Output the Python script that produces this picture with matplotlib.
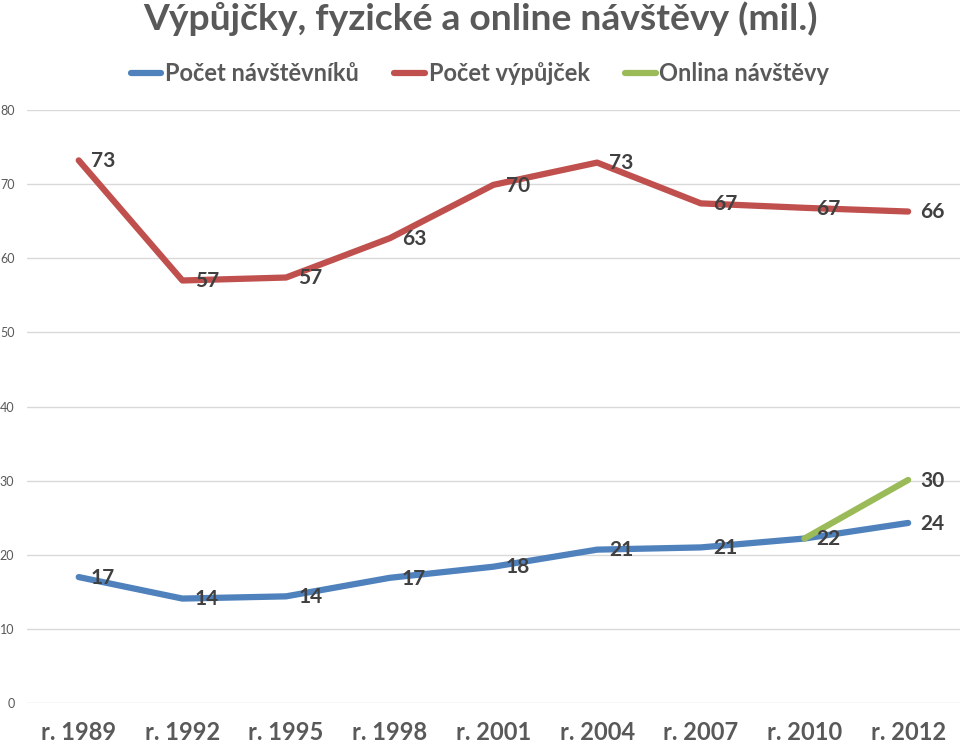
import numpy as np
import matplotlib.pyplot as plt
from matplotlib.lines import Line2D

plt.rcParams['font.family'] = ['Lato', 'DejaVu Sans']

# data (millions)
years = ['r. 1989', 'r. 1992', 'r. 1995', 'r. 1998', 'r. 2001',
         'r. 2004', 'r. 2007', 'r. 2010', 'r. 2012']
visitors = [17.0, 14.1, 14.4, 16.9, 18.4, 20.7, 21.0, 22.2, 24.3]
loans = [73.2, 57.0, 57.4, 62.7, 69.9, 72.9, 67.4, 66.8, 66.3]
online_years = ['r. 2010', 'r. 2012']
online = [22.2, 30.1]

blue = '#4F81BD'
red = '#C0504D'
green = '#9BBB59'
label_col = '#404040'

fig = plt.figure(figsize=(9.6, 7.48), dpi=100)
ax = fig.add_axes([0.028, 0.060, 0.972, 0.793])

x = np.arange(len(years))
x_online = np.array([years.index(y) for y in online_years])

ax.plot(x, visitors, color=blue, lw=4.5, solid_capstyle='round', solid_joinstyle='round', zorder=3)
ax.plot(x, loans, color=red, lw=4.5, solid_capstyle='round', solid_joinstyle='round', zorder=3)
ax.plot(x_online, online, color=green, lw=4.5, solid_capstyle='round', solid_joinstyle='round', zorder=4)

# data labels, to the right of each point
def put_labels(xs, vals, skip_first=False):
    for i, (xi, v) in enumerate(zip(xs, vals)):
        if skip_first and i == 0:
            continue
        ax.annotate(f'{v:.0f}', (xi, v), xytext=(17.5, -0.5), textcoords='offset points',
                    ha='center', va='center', fontsize=15, fontweight='bold',
                    color=label_col, zorder=5)

put_labels(x, visitors)
put_labels(x, loans)
put_labels(x_online, online, skip_first=True)

ax.set_xlim(-0.5, len(years) - 0.5)
ax.set_ylim(0, 80)
ax.set_yticks(np.arange(0, 81, 10))
ax.set_xticks(x)
ax.set_xticklabels(years, fontsize=17, fontweight='bold', color='#595959')
ax.tick_params(axis='y', length=0, pad=9, labelsize=9, labelcolor='#595959')
ax.tick_params(axis='x', length=0, pad=13)
ax.grid(axis='y', color='#D9D9D9', lw=1)
ax.set_axisbelow(True)
for s in ax.spines.values():
    s.set_visible(False)

fig.text(0.5, 0.975, 'Výpůjčky, fyzické a online návštěvy (mil.)', ha='center', va='center',
         fontsize=26.8, fontweight='bold', color='#595959')

handles = [Line2D([], [], color=c, lw=4.5, solid_capstyle='round') for c in (blue, red, green)]
fig.legend(handles, ['Počet návštěvníků', 'Počet výpůjček', 'Onlina návštěvy'],
           loc='center', bbox_to_anchor=(0.5, 0.902), ncol=3, frameon=False,
           prop={'size': 17, 'weight': 'bold'}, labelcolor='#595959',
           handlelength=1.3, handletextpad=0.15, columnspacing=1.5)

fig.savefig('out.png', dpi=100)
